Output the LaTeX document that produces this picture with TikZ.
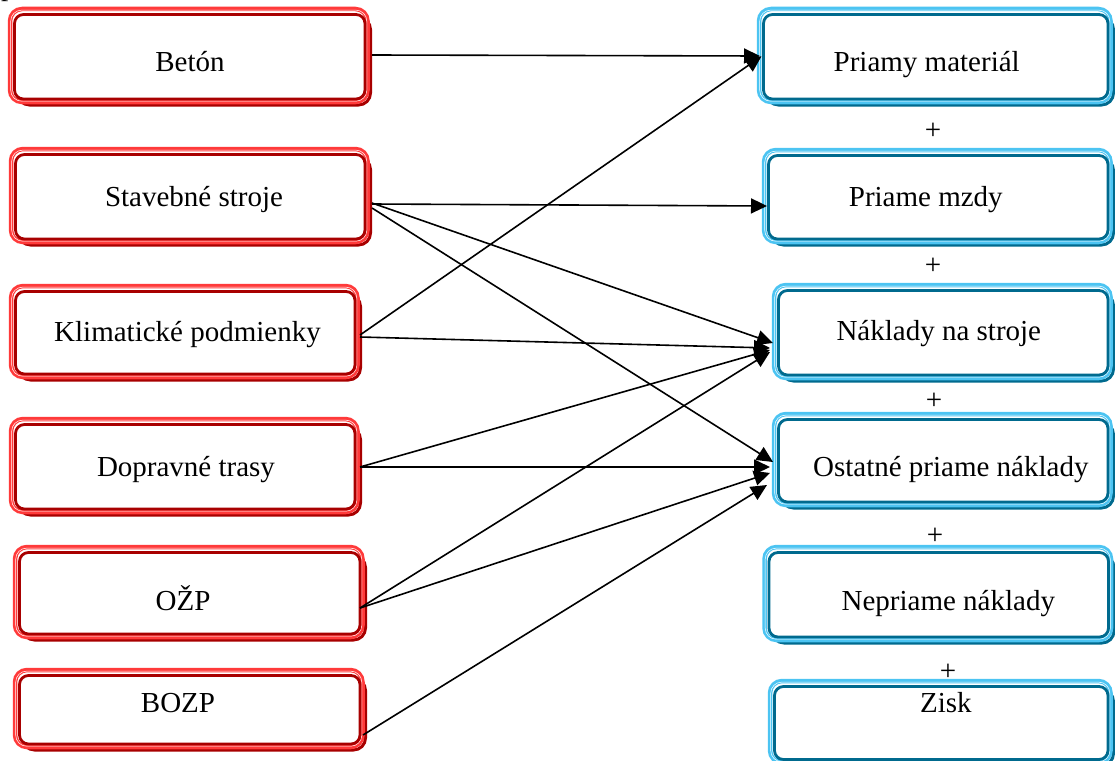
\documentclass[tikz,border=0pt]{standalone}
\usepackage{fontspec}
\setmainfont{Liberation Serif}
\usetikzlibrary{arrows.meta,calc,backgrounds}
\definecolor{rlight}{HTML}{FF3A3A}
\definecolor{rdark}{HTML}{A80000}
\definecolor{blight}{HTML}{4CC4F2}
\definecolor{bdark}{HTML}{006A8E}
\tikzset{
  box/.style={draw=#1, fill=white, line width=2.8pt, rounded corners=9pt, inner sep=0pt, outer sep=0pt},
  lbox/.style={box=rdark},
  rbox/.style={box=bdark},
  lbl/.style={anchor=base, inner sep=0pt, font=\fontsize{29}{35}\selectfont},
  plussign/.style={inner sep=0pt, font=\fontsize{29}{35}\selectfont},
  conn/.style={line width=1.6pt, -{Triangle[length=16pt,width=15pt]}},
}
\newcommand\mkframe[3]{%
  \draw[#3, line width=3pt, rounded corners=12pt] ($(#1.north west)+(3,3)$) rectangle ($(#1.south east)+(5.5,6)$);
  \draw[#2, line width=4.5pt, rounded corners=12pt] ($(#1.north west)+(-4.5,-5.5)$) rectangle ($(#1.south east)+(2.5,3)$);
  \draw[white, line width=0.5pt, rounded corners=11pt] ($(#1.north west)+(-3.8,-4.4)$) rectangle ($(#1.south east)+(1.8,2.2)$);
}
\begin{document}
\begin{tikzpicture}[x=1pt,y=-1pt]
\useasboundingbox (0,0) rectangle (1115,760);
% left boxes
\node[lbox, minimum width=350.5pt, minimum height=84.5pt] (beton) at (189.75,56.75) {};
\node[lbox, minimum width=349.5pt, minimum height=84.5pt] (stav)  at (190.25,196.75) {};
\node[lbox, minimum width=339.5pt, minimum height=82.5pt] (klim)  at (185.25,332.75) {};
\node[lbox, minimum width=339.5pt, minimum height=84.5pt] (dopr)  at (185.25,466.75) {};
\node[lbox, minimum width=340.5pt, minimum height=81.5pt] (ozp)   at (189.75,593.25) {};
\node[lbox, minimum width=340.5pt, minimum height=68.5pt] (bozp)  at (189.75,709.75) {};
% right boxes
\node[rbox, minimum width=344.5pt, minimum height=84.5pt] (priamy) at (935.75,56.75) {};
\node[rbox, minimum width=339.5pt, minimum height=83.5pt] (mzdy)   at (938.25,197.25) {};
\node[rbox, minimum width=329.5pt, minimum height=84.5pt] (nakl)   at (943.25,332.75) {};
\node[rbox, minimum width=329.5pt, minimum height=82.5pt] (ost)    at (943.25,460.75) {};
\node[rbox, minimum width=339.5pt, minimum height=84.5pt] (nepr)   at (938.75,594.75) {};
\node[rbox, minimum width=333.5pt, minimum height=73pt] (zisk)   at (941.25,723) {};
\begin{scope}[on background layer]
  \mkframe{beton}{rlight}{rdark}
  \mkframe{stav}{rlight}{rdark}
  \mkframe{klim}{rlight}{rdark}
  \mkframe{dopr}{rlight}{rdark}
  \mkframe{ozp}{rlight}{rdark}
  \mkframe{bozp}{rlight}{rdark}
  \mkframe{priamy}{blight}{bdark}
  \mkframe{mzdy}{blight}{bdark}
  \mkframe{nakl}{blight}{bdark}
  \mkframe{ost}{blight}{bdark}
  \mkframe{nepr}{blight}{bdark}
  \mkframe{zisk}{blight}{bdark}
\end{scope}
% labels
\node[lbl] (betonT) at (190,71) {Betón};
\node[lbl] (stavT)  at (194,206) {Stavebné stroje};
\node[lbl] (klimT)  at (187.5,341) {Klimatické podmienky};
\node[lbl] (doprT)  at (186,476) {Dopravné trasy};
\node[lbl] (ozpT)   at (183,610) {OŽP};
\node[lbl] (bozpT)  at (178,712) {BOZP};
\node[lbl] (priamyT) at (926.7,71) {Priamy materiál};
\node[lbl] (mzdyT)   at (925.8,206) {Priame mzdy};
\node[lbl] (naklT)   at (938.8,340) {Náklady na stroje};
\node[lbl] (ostT)    at (950.8,476) {Ostatné priame náklady};
\node[lbl] (neprT)   at (948.3,610) {Nepriame náklady};
\node[lbl] (ziskT)   at (945.8,712) {Zisk};
\node[lbl, anchor=base west] (pcut) at (1,-4) {p};
% plus signs
\node[plussign] (p1) at (933,131.7) {+};
\node[plussign] (p2) at (933,266.7) {+};
\node[plussign] (p3) at (934,401.7) {+};
\node[plussign] (p4) at (935,536.7) {+};
\node[plussign] (p5) at (948,672) {+};
% connectors
\draw[conn] ($(beton.east)+(7,-1.75)$) -- ($(priamy.west)+(-3.5,-0.75)$);
\draw[conn] ($(stav.east)+(7,7.25)$) -- ($(mzdy.west)+(-1.5,8.75)$);
\draw[conn] ($(stav.east)+(7,6.25)$) -- ($(nakl.west)+(-5.5,10.25)$);
\draw[conn] ($(stav.east)+(7,11.25)$) -- ($(ost.west)+(-5.5,1.25)$);
\draw[conn] ($(klim.east)+(5,2.25)$) -- ($(priamy.west)+(-2,-0.5)$);
\draw[conn] ($(klim.east)+(5,4.25)$) -- ($(nakl.west)+(-8.5,15.25)$);
\draw[conn] ($(dopr.east)+(5,0.25)$) -- ($(nakl.west)+(-8.5,17.25)$);
\draw[conn] ($(dopr.east)+(5,0.25)$) -- ($(ost.west)+(-8.5,6.25)$);
\draw[conn] ($(ozp.east)+(0,14.75)$) -- ($(nakl.west)+(-8.5,19.25)$);
\draw[conn] ($(ozp.east)+(0,14.75)$) -- ($(ost.west)+(-8.5,12.25)$);
\draw[conn] ($(bozp.east)+(3,25.25)$) -- ($(ost.west)+(-11.5,24.25)$);
\end{tikzpicture}
\end{document}
